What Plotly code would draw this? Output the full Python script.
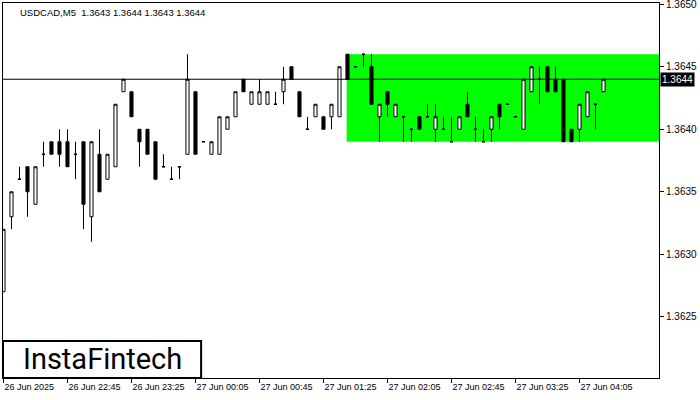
import plotly.graph_objects as go

tick_labels = ["26 Jun 2025", "26 Jun 22:45", "26 Jun 23:25", "27 Jun 00:05", "27 Jun 00:45",
               "27 Jun 01:25", "27 Jun 02:05", "27 Jun 02:45", "27 Jun 03:25", "27 Jun 04:05"]
tick_bars = [0, 8, 16, 24, 32, 40, 48, 56, 64, 72]

opens = [1.3627, 1.3633, 1.3636, 1.3637, 1.3634, 1.3638, 1.3639, 1.3639, 1.3639, 1.3638,
         1.3639, 1.3633, 1.3638, 1.3636, 1.3637, 1.3643, 1.3643, 1.3640, 1.3640, 1.3639,
         1.3637, 1.3636, 1.3637, 1.3638, 1.3643, 1.3639, 1.3638, 1.3638, 1.3640, 1.3641,
         1.3644, 1.3642, 1.3642, 1.3642, 1.3642, 1.3643, 1.3645, 1.3643, 1.3640, 1.3641,
         1.3641, 1.3641, 1.3641, 1.3646, 1.3645, 1.3646, 1.3645, 1.3641, 1.3643, 1.3641,
         1.3641, 1.3640, 1.3641, 1.3641, 1.3640, 1.3640, 1.3639, 1.3640, 1.3642, 1.3640,
         1.3639, 1.3640, 1.3642, 1.3642, 1.3641, 1.3640, 1.3643, 1.3644, 1.3645, 1.3644,
         1.3644, 1.3640, 1.3640, 1.3641, 1.3642, 1.3643]
highs = [1.3632, 1.3635, 1.3637, 1.3637, 1.3637, 1.3639, 1.3639, 1.3640, 1.3640, 1.3639,
         1.3639, 1.3639, 1.3640, 1.3638, 1.3642, 1.3644, 1.3643, 1.3640, 1.3640, 1.3639,
         1.3638, 1.3637, 1.3637, 1.3646, 1.3643, 1.3639, 1.3639, 1.3641, 1.3641, 1.3643,
         1.3644, 1.3643, 1.3644, 1.3643, 1.3643, 1.3645, 1.3645, 1.3643, 1.3641, 1.3642,
         1.3641, 1.3642, 1.3645, 1.3646, 1.3645, 1.3646, 1.3646, 1.3642, 1.3643, 1.3642,
         1.3641, 1.3640, 1.3641, 1.3642, 1.3642, 1.3641, 1.3641, 1.3641, 1.3643, 1.3641,
         1.3640, 1.3641, 1.3642, 1.3642, 1.3641, 1.3644, 1.3645, 1.3645, 1.3645, 1.3645,
         1.3644, 1.3640, 1.3642, 1.3643, 1.3642, 1.3644]
lows = [1.3627, 1.3632, 1.3636, 1.3633, 1.3634, 1.3637, 1.3638, 1.3637, 1.3637, 1.3636,
        1.3632, 1.3631, 1.3635, 1.3636, 1.3637, 1.3643, 1.3641, 1.3637, 1.3638, 1.3636,
        1.3637, 1.3636, 1.3636, 1.3638, 1.3638, 1.3639, 1.3638, 1.3638, 1.3640, 1.3641,
        1.3643, 1.3642, 1.3642, 1.3642, 1.3642, 1.3642, 1.3644, 1.3641, 1.3640, 1.3641,
        1.3640, 1.3640, 1.3641, 1.3644, 1.3645, 1.3645, 1.3642, 1.3639, 1.3641, 1.3641,
        1.3639, 1.3639, 1.3640, 1.3641, 1.3639, 1.3640, 1.3639, 1.3640, 1.3641, 1.3639,
        1.3639, 1.3639, 1.3640, 1.3642, 1.3641, 1.3640, 1.3643, 1.3642, 1.3643, 1.3643,
        1.3639, 1.3639, 1.3639, 1.3641, 1.3640, 1.3643]
closes = [1.3632, 1.3635, 1.3636, 1.3635, 1.3637, 1.3638, 1.3638, 1.3638, 1.3637, 1.3638,
          1.3634, 1.3639, 1.3635, 1.3638, 1.3642, 1.3644, 1.3641, 1.3639, 1.3638, 1.3636,
          1.3637, 1.3636, 1.3637, 1.3644, 1.3638, 1.3639, 1.3639, 1.3641, 1.3641, 1.3643,
          1.3643, 1.3643, 1.3643, 1.3643, 1.3642, 1.3644, 1.3644, 1.3641, 1.3640, 1.3642,
          1.3640, 1.3642, 1.3645, 1.3644, 1.3645, 1.3646, 1.3642, 1.3642, 1.3642, 1.3642,
          1.3641, 1.3640, 1.3640, 1.3641, 1.3641, 1.3640, 1.3639, 1.3641, 1.3641, 1.3640,
          1.3639, 1.3641, 1.3641, 1.3642, 1.3641, 1.3644, 1.3645, 1.3644, 1.3643, 1.3643,
          1.3639, 1.3639, 1.3642, 1.3643, 1.3642, 1.3644]

zone_start_bar = 42.9
zone_top = 1.3646
zone_bottom = 1.3639
current_price = 1.3644
title_text = "USDCAD,M5  1.3643 1.3644 1.3643 1.3644"
y_ticks = [1.3625, 1.3630, 1.3635, 1.3640, 1.3645, 1.3650]

bars = list(range(len(opens)))
FONT = "Liberation Sans, Arial, sans-serif"

fig = go.Figure()
fig.add_trace(go.Candlestick(
    x=bars, open=opens, high=highs, low=lows, close=closes,
    increasing=dict(line=dict(color="black", width=1), fillcolor="white"),
    decreasing=dict(line=dict(color="black", width=1), fillcolor="black"),
    whiskerwidth=0, showlegend=False, hoverinfo="skip",
))

fig.add_shape(type="rect", xref="x", yref="y", x0=zone_start_bar, x1=200,
              y0=zone_bottom, y1=zone_top, fillcolor="#00FF00", line=dict(width=0),
              layer="below")
fig.add_shape(type="line", xref="paper", yref="y", x0=0, x1=1,
              y0=current_price, y1=current_price, line=dict(color="black", width=1))

# logo box
fig.add_shape(type="rect", xref="paper", yref="paper", x0=0, x1=0.302, y0=0, y1=0.099,
              fillcolor="white", line=dict(color="black", width=2))
fig.add_annotation(xref="paper", yref="paper", x=0.302 / 2, y=0.0495, text="InstaFintech",
                   showarrow=False, xanchor="center", yanchor="middle",
                   font=dict(family="Roboto, Liberation Sans, sans-serif", size=29, color="black"))

fig.add_annotation(xref="paper", yref="paper", x=0.023, y=1, yshift=-2, text=title_text,
                   showarrow=False, xanchor="left", yanchor="top",
                   font=dict(family=FONT, size=9.5, color="black"))

fig.add_annotation(xref="paper", yref="y", x=1, y=current_price, xshift=1,
                   text=f"{current_price:.4f}", showarrow=False, xanchor="left",
                   yanchor="middle", bgcolor="black", borderpad=1,
                   font=dict(family=FONT, size=10, color="white"))

fig.update_layout(
    width=700, height=400,
    margin=dict(l=3, r=41, t=3, b=22, autoexpand=False),
    paper_bgcolor="white", plot_bgcolor="white",
    font=dict(family=FONT, size=10, color="black"),
    showlegend=False,
    boxgap=0.45,
    xaxis=dict(range=[-0.06, 81.94], rangeslider=dict(visible=False),
               tickmode="array", tickvals=tick_bars, ticktext=tick_labels,
               ticks="outside", ticklen=4, tickcolor="black", tickangle=0,
               ticklabelposition="outside right", automargin=False,
               showgrid=False, zeroline=False, showline=True, linecolor="black",
               linewidth=1, mirror=True, tickfont=dict(size=9)),
    yaxis=dict(range=[1.36201, 1.36501], side="right", automargin=False,
               tickmode="array", tickvals=y_ticks,
               ticktext=[f"{v:.4f}" for v in y_ticks],
               ticks="outside", ticklen=4, tickcolor="black",
               ticklabeloverflow="allow",
               showgrid=False, zeroline=False, showline=True, linecolor="black",
               linewidth=1, mirror=True, tickfont=dict(size=10)),
)

fig.write_html("out.html", config={"displayModeBar": False},
               post_script="document.body.style.margin='0';document.body.style.padding='0';")
